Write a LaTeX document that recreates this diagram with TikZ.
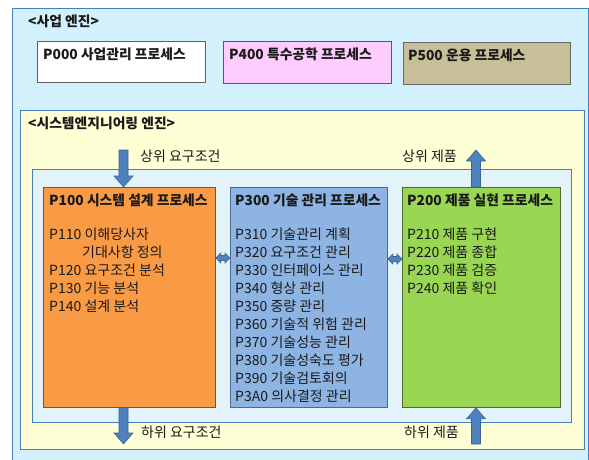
\documentclass[tikz,border=0pt]{standalone}
\usepackage{fontspec}
\setmainfont{Noto Sans CJK KR}
\usetikzlibrary{calc}
\definecolor{outerbg}{HTML}{D2F1FD}
\definecolor{yellowbg}{HTML}{FFFFD6}
\definecolor{innerbg}{HTML}{E2F3FA}
\definecolor{framebl}{HTML}{4A7EBB}
\definecolor{orangef}{HTML}{F99A45}
\definecolor{oranged}{HTML}{7A5232}
\definecolor{bluef}{HTML}{8EB4E3}
\definecolor{blued}{HTML}{4A6A96}
\definecolor{greenf}{HTML}{99D653}
\definecolor{greend}{HTML}{4E6B2A}
\definecolor{pinkf}{HTML}{FFCCFF}
\definecolor{khakif}{HTML}{C7BF98}
\definecolor{arrowf}{HTML}{4F81BD}
\definecolor{arrowd}{HTML}{3A6496}
\definecolor{txt}{HTML}{1A1A1A}
\tikzset{
  frame/.style={draw=framebl, line width=1pt, inner sep=0pt, anchor=north west},
  procbox/.style={draw, line width=0.9pt, inner sep=0pt, anchor=north west},
  lbl/.style={inner sep=0pt, anchor=west, text=txt, font=\fontsize{14}{16}\selectfont},
  blbl/.style={lbl, font=\fontsize{13.8}{16}\selectfont\bfseries},
  listtxt/.style={inner sep=0pt, anchor=north west, align=left, text=txt, font=\fontsize{14}{18}\selectfont},
  barrow/.style={fill=arrowf, draw=arrowd, line width=0.6pt, line join=miter}
}
\begin{document}
\begin{tikzpicture}[x=1pt,y=-1pt]
\useasboundingbox (0,0) rectangle (589,459);
% frames
\node[frame, fill=outerbg, minimum width=576, minimum height=455] (outer) at (12,8) {};
\node[frame, fill=yellowbg, minimum width=564, minimum height=339] (se) at (20,110) {};
\node[frame, fill=innerbg, minimum width=539, minimum height=253] (inner) at (32,169) {};
% top process boxes
\node[procbox, draw=gray!75!black, fill=white, minimum width=168, minimum height=41] (p000) at (37,41) {};
\node[procbox, draw=gray!70!black, fill=pinkf, minimum width=168, minimum height=42] (p400) at (223,41) {};
\node[procbox, draw=black!60, fill=khakif, minimum width=167, minimum height=42] (p500) at (403,42) {};
% main process boxes
\node[procbox, draw=oranged, fill=orangef, minimum width=172, minimum height=220] (p100) at (43,187) {};
\node[procbox, draw=blued, fill=bluef, minimum width=157, minimum height=220] (p300) at (230,187) {};
\node[procbox, draw=greend, fill=greenf, minimum width=158, minimum height=220] (p200) at (402,187) {};
% titles
\node[blbl] (t0) at (28,21) {<사업 엔진>};
\node[blbl] (t000) at (43,54) {P000 사업관리 프로세스};
\node[blbl] (t400) at (229,54) {P400 특수공학 프로세스};
\node[blbl] (t500) at (408,55) {P500 운용 프로세스};
\node[blbl] (tse) at (28,123) {<시스템엔지니어링 엔진>};
\node[blbl] (t100) at (49,200) {P100 시스템 설계 프로세스};
\node[blbl] (t300) at (235,200) {P300 기술 관리 프로세스};
\node[blbl] (t200) at (407,200) {P200 제품 실현 프로세스};
% lists
\node[listtxt] (l100) at (49,228) {P110 이해당사자\\\hspace{33pt}기대사항 정의\\P120 요구조건 분석\\P130 기능 분석\\P140 설계 분석};
\node[listtxt] (l300) at (235,228) {P310 기술관리 계획\\P320 요구조건 관리\\P330 인터페이스 관리\\P340 형상 관리\\P350 중량 관리\\P360 기술적 위험 관리\\P370 기술성능 관리\\P380 기술성숙도 평가\\P390 기술검토회의\\P3A0 의사결정 관리};
\node[listtxt] (l200) at (407,228) {P210 제품 구현\\P220 제품 종합\\P230 제품 검증\\P240 제품 확인};
% arrow labels
\node[lbl] (la) at (140,156) {상위 요구조건};
\node[lbl] (lb) at (402,156) {상위 제품};
\node[lbl] (lc) at (141,432) {하위 요구조건};
\node[lbl] (ld) at (404,432) {하위 제품};
% arrow coordinates
\coordinate (rqin) at (123.5,150);
\coordinate (rqout) at (123.5,444);
\coordinate (prout) at (476,150);
\coordinate (prin) at (476,444);
% down arrows
\draw[barrow] let \p1=(rqin), \p2=(rqin |- p100.north) in
  (\x1-4.5pt,\y1) -- (\x1-4.5pt,\y2+11pt) -- (\x1-9.5pt,\y2+11pt) -- (\x2,\y2)
  -- (\x1+9.5pt,\y2+11pt) -- (\x1+4.5pt,\y2+11pt) -- (\x1+4.5pt,\y1) -- cycle;
\draw[barrow] let \p1=(rqout |- p100.south), \p2=(rqout) in
  (\x1-4.5pt,\y1) -- (\x1-4.5pt,\y2+11pt) -- (\x1-9.5pt,\y2+11pt) -- (\x2,\y2)
  -- (\x1+9.5pt,\y2+11pt) -- (\x1+4.5pt,\y2+11pt) -- (\x1+4.5pt,\y1) -- cycle;
% up arrows
\draw[barrow] let \p1=(prout |- p200.north), \p2=(prout) in
  (\x1-4.5pt,\y1) -- (\x1-4.5pt,\y2-11pt) -- (\x1-9.5pt,\y2-11pt) -- (\x2,\y2)
  -- (\x1+9.5pt,\y2-11pt) -- (\x1+4.5pt,\y2-11pt) -- (\x1+4.5pt,\y1) -- cycle;
\draw[barrow] let \p1=(prin), \p2=(prin |- p200.south) in
  (\x1-4.5pt,\y1) -- (\x1-4.5pt,\y2-11pt) -- (\x1-9.5pt,\y2-11pt) -- (\x2,\y2)
  -- (\x1+9.5pt,\y2-11pt) -- (\x1+4.5pt,\y2-11pt) -- (\x1+4.5pt,\y1) -- cycle;
% double arrows
\coordinate (dy1) at (0,258);
\coordinate (dy2) at (0,259);
\draw[barrow] let \p1=(p100.east |- dy1), \p2=(p300.west |- dy1) in
  (\x1,\y1) -- (\x1+5pt,\y1+5pt) -- (\x1+5pt,\y1+2.5pt) -- (\x2-5pt,\y1+2.5pt) -- (\x2-5pt,\y1+5pt)
  -- (\x2,\y1) -- (\x2-5pt,\y1-5pt) -- (\x2-5pt,\y1-2.5pt) -- (\x1+5pt,\y1-2.5pt) -- (\x1+5pt,\y1-5pt) -- cycle;
\draw[barrow] let \p1=(p300.east |- dy2), \p2=(p200.west |- dy2) in
  (\x1,\y1) -- (\x1+5pt,\y1+5pt) -- (\x1+5pt,\y1+2.5pt) -- (\x2-5pt,\y1+2.5pt) -- (\x2-5pt,\y1+5pt)
  -- (\x2,\y1) -- (\x2-5pt,\y1-5pt) -- (\x2-5pt,\y1-2.5pt) -- (\x1+5pt,\y1-2.5pt) -- (\x1+5pt,\y1-5pt) -- cycle;
\end{tikzpicture}
\end{document}
